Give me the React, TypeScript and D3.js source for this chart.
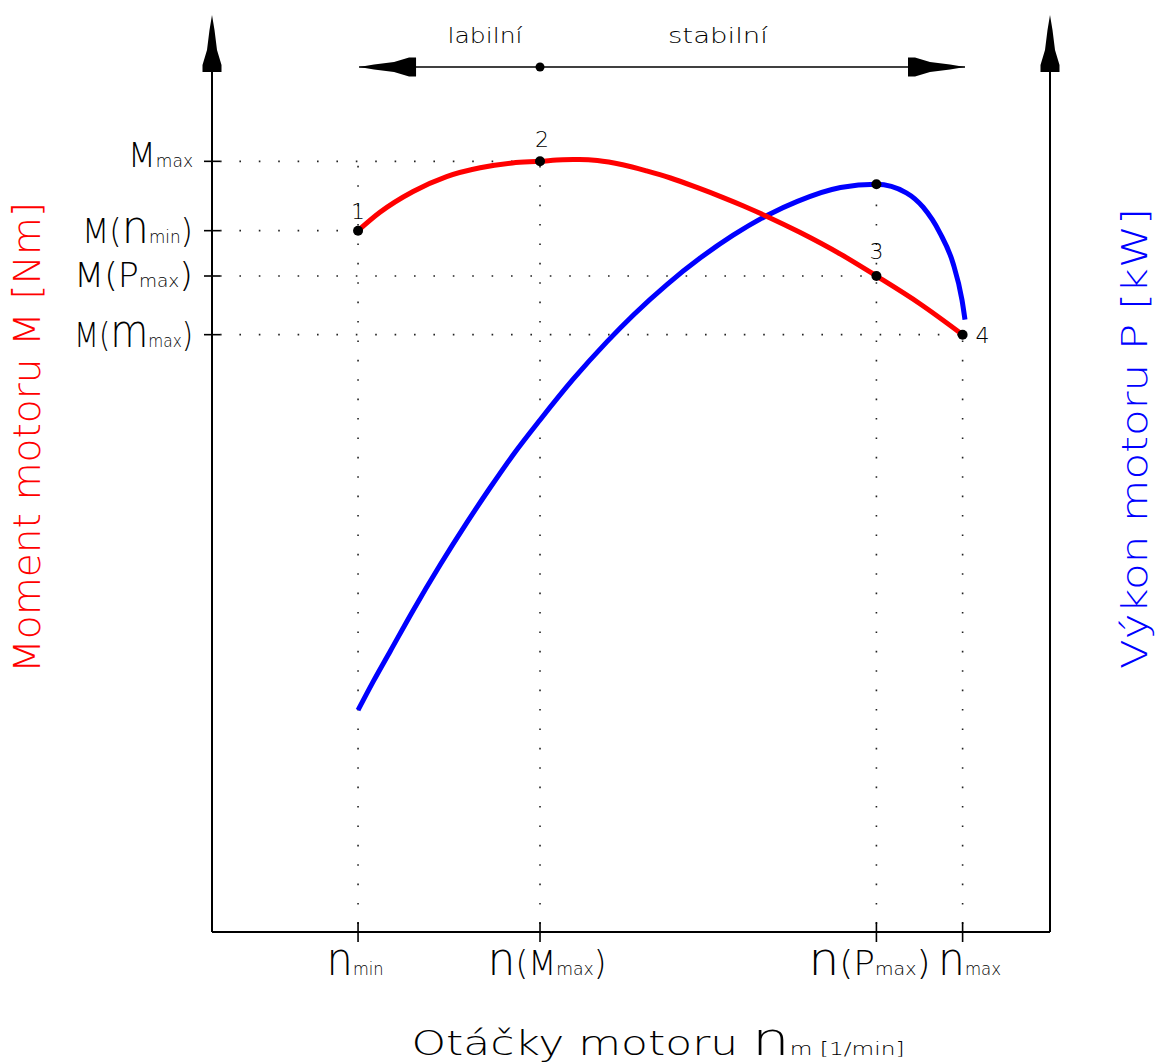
import React, { useEffect, useRef } from "react";
import * as d3 from "d3";

// torque curve M(n)
const torqueRpm = [1220, 1400, 1680, 1960, 2240, 2510, 2740, 2930, 3070, 3220, 3430, 3630, 3830, 4050, 4270, 4440, 4640, 4910, 5250, 5550, 5910, 6270];
const torqueValues = [263, 269.8, 277.7, 283.3, 286.6, 288.4, 289, 289.6, 289.65, 289.3, 287.7, 285.4, 282.75, 279.2, 275.4, 272.25, 268.25, 262.4, 254.2, 246, 235.7, 224];

// power curve P(n)
const powerRpm = [1220, 1345, 1490, 1680, 1905, 2130, 2320, 2510, 2740, 3015, 3300, 3520, 3800, 4080, 4350, 4640, 4890, 5250, 5550, 5800, 5940, 6080, 6190, 6265, 6290];
const powerValues = [41.6, 46.9, 52.7, 60.3, 68.8, 76.8, 83.2, 89.3, 96, 103.6, 110.7, 115.7, 121.4, 126.4, 130.6, 134.4, 137, 139.6, 140.2, 138.6, 135.9, 131.1, 125.4, 118.5, 114.8];

// key points 1..4
const pointNames = ["1", "2", "3", "4"];
const pointRpm = [1220, 2740, 5550, 6270];
const pointTorque = [263, 289, 246, 224];
const powerMax = 140.2;

// tick labels, as [text, kind] pieces
const speedTickLabels = [
  [["n", "tall"], ["min", "sub"]],
  [["n", "tall"], ["(", "big"], ["M", "big"], ["max", "sub"], [")", "big"]],
  [["n", "tall"], ["(", "big"], ["P", "big"], ["max", "sub"], [")", "big"]],
  [["n", "tall"], ["max", "sub"]],
];
const torqueTickLabels = [
  [["M", "big"], ["(", "big"], ["n", "tall"], ["min", "sub"], [")", "big"]],
  [["M", "big"], ["max", "sub"]],
  [["M", "big"], ["(", "big"], ["P", "big"], ["max", "sub"], [")", "big"]],
  [["M", "big"], ["(", "big"], ["m", "tall"], ["max", "sub"], [")", "big"]],
];
const zoneLabels = ["labilní", "stabilní"];
const xTitle = [["Otáčky motoru ", "big"], ["n", "tall"], ["m", "sub"], [" [1/min]", "sub"]];
const leftTitle = "Moment motoru M [Nm]";
const rightTitle = "Výkon motoru P [kW]";

export default function App() {
  const svgRef = useRef<SVGSVGElement>(null);

  useEffect(() => {
    const width = 1155;
    const height = 1063;
    const left = 212;
    const right = 1050;
    const bottom = 932;
    const top = 15;
    const font = "'DejaVu Sans', sans-serif";
    const sizes: Record<string, number> = { big: 34, tall: 46, sub: 18 };

    const svg = d3.select(svgRef.current).attr("width", width).attr("height", height);
    svg.selectAll("*").remove();

    const xScale = d3.scaleLinear().domain([0, 7000]).range([left, right]);
    const mScale = d3.scaleLinear().domain([0, 300]).range([bottom, 132]);
    const pScale = d3.scaleLinear().domain([0, 150]).range([bottom, 132]);

    const drawLabel = (parts: string[][], x: number, y: number, anchor: string, len: number) => {
      const t = svg
        .append("text")
        .attr("x", x)
        .attr("y", y)
        .attr("text-anchor", anchor)
        .attr("textLength", len)
        .attr("lengthAdjust", "spacingAndGlyphs")
        .attr("font-family", font)
        .attr("font-weight", 200)
        .attr("fill", "black");
      parts.forEach(([s, k]) => t.append("tspan").attr("font-size", sizes[k]).text(s));
    };

    // dotted guides
    const dotted = (x1: number, y1: number, x2: number, y2: number) =>
      svg
        .append("line")
        .attr("x1", x1)
        .attr("y1", y1)
        .attr("x2", x2)
        .attr("y2", y2)
        .attr("stroke", "#222")
        .attr("stroke-width", 1.6)
        .attr("stroke-dasharray", "1.6 17.8");

    const verticalTops = [mScale(289), mScale(289), pScale(powerMax), mScale(pointTorque[3])];
    pointRpm.forEach((n, i) => {
      dotted(left + 8, mScale(pointTorque[i]), xScale(n), mScale(pointTorque[i]));
      dotted(xScale(n), bottom - 8, xScale(n), verticalTops[i]);
    });

    // axes
    svg.append("line").attr("x1", left).attr("y1", top + 10).attr("x2", left).attr("y2", bottom).attr("stroke", "black").attr("stroke-width", 2);
    svg.append("line").attr("x1", right).attr("y1", top + 10).attr("x2", right).attr("y2", bottom).attr("stroke", "black").attr("stroke-width", 2);
    svg.append("line").attr("x1", left).attr("y1", bottom).attr("x2", right).attr("y2", bottom).attr("stroke", "black").attr("stroke-width", 2);

    // CAD style arrowheads
    const arrowShape = [
      [0, 0], [2.5, 15], [5, 35], [9.5, 50], [9.5, 57], [-9.5, 57], [-9.5, 50], [-5, 35], [-2.5, 15],
    ];
    const arrow = (x: number, y: number, angle: number) =>
      svg
        .append("polygon")
        .attr("points", arrowShape.map((p) => p.join(",")).join(" "))
        .attr("transform", `translate(${x},${y}) rotate(${angle})`)
        .attr("fill", "black");
    arrow(left, top, 0);
    arrow(right, top, 0);

    // labilni / stabilni arrow
    const zoneY = 67;
    const zx1 = xScale(pointRpm[0]) + 1;
    const zx2 = xScale(6290);
    svg.append("line").attr("x1", zx1).attr("y1", zoneY).attr("x2", zx2).attr("y2", zoneY).attr("stroke", "black").attr("stroke-width", 1.6);
    arrow(zx1, zoneY, -90);
    arrow(zx2, zoneY, 90);
    svg.append("circle").attr("cx", xScale(pointRpm[1])).attr("cy", zoneY).attr("r", 4.5).attr("fill", "black");
    const zoneX = [485, 718];
    const zoneLen = [75, 100];
    zoneLabels.forEach((s, i) =>
      svg
        .append("text")
        .attr("x", zoneX[i])
        .attr("y", 43)
        .attr("text-anchor", "middle")
        .attr("font-family", font)
        .attr("font-weight", 200)
        .attr("font-size", 21)
        .attr("textLength", zoneLen[i])
        .attr("lengthAdjust", "spacingAndGlyphs")
        .text(s)
    );

    // ticks
    pointRpm.forEach((n) =>
      svg.append("line").attr("x1", xScale(n)).attr("x2", xScale(n)).attr("y1", bottom - 10).attr("y2", bottom + 10).attr("stroke", "black").attr("stroke-width", 1.6)
    );
    pointTorque.forEach((m) =>
      svg.append("line").attr("x1", left - 8).attr("x2", left + 8).attr("y1", mScale(m)).attr("y2", mScale(m)).attr("stroke", "black").attr("stroke-width", 1.6)
    );

    // tick labels
    const speedOffset = [-3, 7, -7, 7];
    const speedLen = [57, 119, 122, 63];
    speedTickLabels.forEach((parts, i) => drawLabel(parts, xScale(pointRpm[i]) + speedOffset[i], 975, "middle", speedLen[i]));
    const torqueDy = [12, 6, 11, 12];
    const torqueLen = [111, 65, 119, 119];
    torqueTickLabels.forEach((parts, i) => drawLabel(parts, 193, mScale(pointTorque[i]) + torqueDy[i], "end", torqueLen[i]));

    // x title
    drawLabel(xTitle, 658, 1055, "middle", 493);

    // y titles
    svg
      .append("text")
      .attr("transform", "translate(40,437.5) rotate(-90)")
      .attr("text-anchor", "middle")
      .attr("font-family", font)
      .attr("font-weight", 200)
      .attr("font-size", 37)
      .attr("textLength", 471)
      .attr("lengthAdjust", "spacingAndGlyphs")
      .attr("fill", "#ff0000")
      .text(leftTitle);
    svg
      .append("text")
      .attr("transform", "translate(1147,438.5) rotate(-90)")
      .attr("text-anchor", "middle")
      .attr("font-family", font)
      .attr("font-weight", 200)
      .attr("font-size", 35)
      .attr("textLength", 461)
      .attr("lengthAdjust", "spacingAndGlyphs")
      .attr("fill", "#0000ff")
      .text(rightTitle);

    // curves
    const torqueLine = d3
      .line<number>()
      .x((d, i) => xScale(torqueRpm[i]))
      .y((d) => mScale(d))
      .curve(d3.curveMonotoneX);
    const powerLine = d3
      .line<number>()
      .x((d, i) => xScale(powerRpm[i]))
      .y((d) => pScale(d))
      .curve(d3.curveMonotoneX);

    svg.append("path").datum(powerValues).attr("fill", "none").attr("stroke", "#0000ff").attr("stroke-width", 5).attr("d", powerLine);
    svg.append("path").datum(torqueValues).attr("fill", "none").attr("stroke", "#ff0000").attr("stroke-width", 5).attr("d", torqueLine);

    // key points
    pointRpm.forEach((n, i) =>
      svg.append("circle").attr("cx", xScale(n)).attr("cy", mScale(pointTorque[i])).attr("r", 5).attr("fill", "black")
    );
    svg.append("circle").attr("cx", xScale(pointRpm[2])).attr("cy", pScale(powerMax)).attr("r", 5).attr("fill", "black");

    const nameDx = [0, 2, 0, 20];
    const nameDy = [-12, -14, -17, 8];
    pointNames.forEach((s, i) =>
      svg
        .append("text")
        .attr("x", xScale(pointRpm[i]) + nameDx[i])
        .attr("y", mScale(pointTorque[i]) + nameDy[i])
        .attr("text-anchor", "middle")
        .attr("font-family", font)
        .attr("font-weight", 200)
        .attr("font-size", 22)
        .text(s)
    );
  }, []);

  return (
    <div>
      <svg ref={svgRef} style={{ position: "absolute", left: 0, top: 0, display: "block" }}></svg>
    </div>
  );
}
